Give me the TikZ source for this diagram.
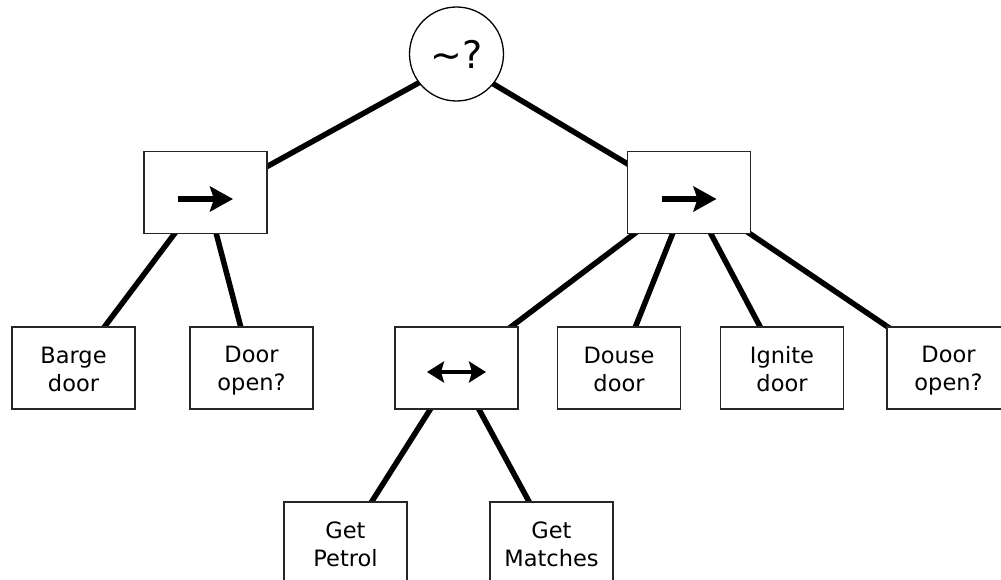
\documentclass[tikz,border=0pt]{standalone}
\usepackage{fontspec}
\setmainfont{DejaVu Sans}
\usetikzlibrary{arrows.meta}
\pgfdeclarelayer{bg}
\pgfsetlayers{bg,main}
% two-line label whose box is centred on the lettering
\newcommand{\twolines}[2]{\vrule width 0pt height 22pt depth 0pt#1\\#2\vrule width 0pt height 0pt depth 3pt}
\begin{document}
\begin{tikzpicture}[x=1pt,y=-1pt,
  task/.style={draw=black!85,line width=1.3pt,fill=white,
    minimum width=123pt,minimum height=82pt,inner sep=0pt,
    align=center,font=\fontsize{22.5}{28.5}\selectfont},
  selector/.style={circle,draw=black,line width=1.3pt,fill=white,
    minimum size=94pt,inner sep=0pt,font=\fontsize{38}{40}\selectfont},
  edge/.style={line width=5.5pt,black},
  seqarrow/.style={line width=5.5pt,-{Stealth[length=23pt,width=25pt,inset=4pt]}},
  pararrow/.style={line width=4.5pt,{Stealth[length=17pt,width=21pt,inset=3pt]}-{Stealth[length=17pt,width=21pt,inset=3pt]}}]
  \useasboundingbox (0,0) rectangle (1001,580);
  \clip (0,0) rectangle (1001,580);

  % root selector
  \node[selector] (root) at (456.5,54) {\textasciitilde?};

  % composite nodes
  \node[task] (seqA) at (205.5,192.5) {};
  \node[task] (seqB) at (689,192.5) {};
  \node[task] (inter) at (456.5,368) {};

  % leaves
  \node[task] (barge)   at (73.5,368)  {\twolines{Barge}{door}};
  \node[task] (openA)   at (251.5,368) {\twolines{Door}{open?}};
  \node[task] (douse)   at (619,368)   {\twolines{Douse}{door}};
  \node[task] (ignite)  at (782,368)   {\twolines{Ignite}{door}};
  \node[task] (openB)   at (948.5,368) {\twolines{Door}{open?}};
  \node[task] (petrol)  at (345.5,543) {\twolines{Get}{Petrol}};
  \node[task] (matches) at (551.5,543) {\twolines{Get}{Matches}};

  % symbols inside the composite nodes
  \draw[seqarrow] ([xshift=-27.5pt,yshift=-6.5pt]seqA.center) -- ([xshift=27.5pt,yshift=-6.5pt]seqA.center);
  \draw[seqarrow] ([xshift=-27.5pt,yshift=-6.5pt]seqB.center) -- ([xshift=27.5pt,yshift=-6.5pt]seqB.center);
  \draw[pararrow] ([xshift=-29.5pt,yshift=-4pt]inter.center) -- ([xshift=29.5pt,yshift=-4pt]inter.center);

  % connectors behind the nodes
  \begin{pgfonlayer}{bg}
    \draw[edge] ([yshift=-8pt]root.center) -- ([yshift=-8pt]seqA.center);
    \draw[edge] ([yshift=-8pt]root.center) -- ([yshift=-8pt]seqB.center);
    \draw[edge] (seqA.center) -- (barge.center);
    \draw[edge] (seqA.center) -- (openA.center);
    \draw[edge] (seqB.center) -- (inter.center);
    \draw[edge] (seqB.center) -- (douse.center);
    \draw[edge] (seqB.center) -- (ignite.center);
    \draw[edge] (seqB.center) -- (openB.center);
    \draw[edge] (inter.center) -- (petrol.center);
    \draw[edge] (inter.center) -- (matches.center);
  \end{pgfonlayer}
\end{tikzpicture}
\end{document}
